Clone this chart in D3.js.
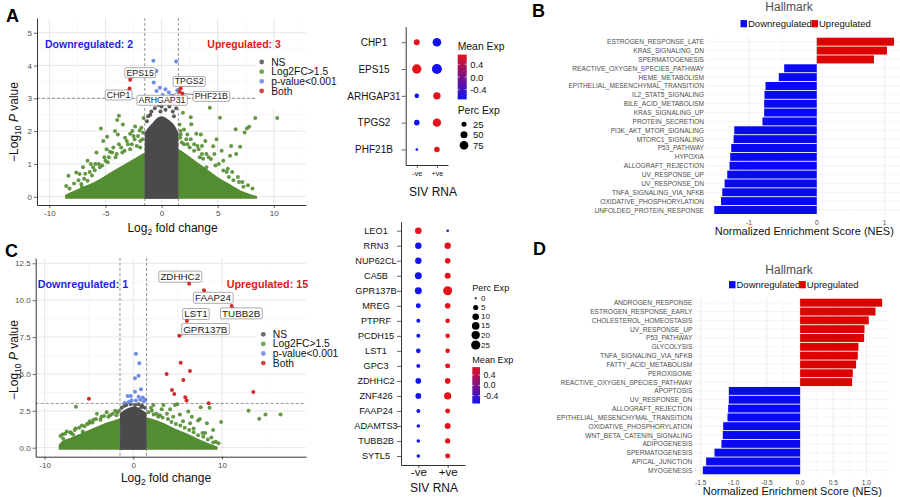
<!DOCTYPE html>
<html lang="en">
<head>
<meta charset="UTF-8">
<title>SIV RNA volcano, dot and Hallmark panels</title>
<script src="https://d3js.org/d3.v7.min.js"></script>
<style>
  body { margin: 0; background: #fff; }
  svg { font-family: "Liberation Sans", Arial, Helvetica, sans-serif; }
</style>
</head>
<body>
<div id="fig"></div>
<script>
// ---------- panel A : volcano ----------
// dense clouds given as [log2FC, top of the solid mass]
const volcAGreenEdge = [[-8.6,0.05],[-8,0.15],[-7,0.3],[-6,0.45],[-5,0.65],[-4,0.85],[-3,1.05],[-2,1.25],[-1.5,1.35],[0,1.5],[1.5,1.45],[2,1.35],[3,1.1],[4,0.85],[5,0.6],[6,0.4],[7,0.2],[8,0.07],[8.5,0.02]];
const volcAGrayEdge = [[-1.5,1.95],[-1.2,2.1],[-0.8,2.25],[-0.4,2.4],[0,2.45],[0.4,2.4],[0.8,2.3],[1.2,2.15],[1.5,1.95]];
const volcAGreen = [[-8.5,0.33],[-8.3,0.64],[-8.1,0.07],[-7.6,0.74],[-7.3,0.69],[-7.15,0.39],[-7.1,0.3],[-6.6,0.49],[-6.6,1.1],[-6.1,0.9],[-5.95,0.81],[-5.8,1.35],[-5.4,2.08],[-5.2,1.7],[-4.85,1.83],[-4.6,1.37],[-4.3,1.5],[-4.15,2.0],[-3.95,2.34],[-3.8,2.47],[-3.45,2.2],[-3.25,1.8],[-2.8,1.92],[-2.65,1.6],[-2.35,2.14],[-1.95,2.02],[-1.9,1.5],[-1.8,2.1],[-1.6,2.4],
  [-6.9,0.55],[-6.2,0.65],[-5.6,1.0],[-5.0,1.1],[-4.7,1.2],[-4.0,1.3],[-3.6,1.5],[-3.0,1.6],[-2.4,1.75],[-2.1,1.85],[-1.7,1.75],[-3.3,1.4],[-5.3,0.95],
  [-8.2,0.25],[-7.8,0.4],[-7.4,0.5],[-6.8,0.7],[-6.4,0.75],[-5.9,1.0],[-5.5,0.9],[-5.1,1.2],[-4.8,1.05],[-4.4,1.35],[-4.1,1.2],[-3.8,1.6],[-3.5,1.35],[-3.1,1.7],[-2.8,1.45],[-2.5,1.85],[-2.2,1.55],[-1.9,1.7],[-1.65,1.95],[-2.6,2.0],[-3.9,1.9],[-4.9,1.45],[-6.3,1.0],[-7.0,0.9],
  [1.6,2.2],[1.7,2.0],[1.65,1.8],[1.8,1.65],[1.9,2.56],[2.2,1.75],[2.5,1.5],[2.6,2.42],[2.65,2.21],[3.1,1.92],[3.4,1.2],[3.7,1.16],[4.0,0.9],[4.3,2.71],[4.6,1.54],[5.2,2.41],[5.2,0.24],[5.35,1.4],[5.8,0.75],[6.1,1.25],[6.4,0.5],[6.6,2.06],[6.65,1.3],[7.0,1.52],[7.4,1.96],[7.6,2.08],[7.8,2.13],[8.35,2.4],[10.3,2.4],
  [2.0,1.6],[2.9,1.4],[3.2,1.55],[3.6,1.3],[4.2,1.2],[4.8,0.95],[5.5,0.8],[6.0,0.6],[6.9,0.45],[7.3,0.3],[2.3,1.9],[3.9,1.7],
  [1.7,1.9],[2.0,2.05],[2.3,1.6],[2.6,1.75],[2.9,1.6],[3.3,1.45],[3.6,1.55],[4.0,1.3],[4.4,1.15],[4.7,1.3],[5.1,1.0],[5.5,1.1],[5.9,0.85],[6.3,0.75],[6.8,0.6],[7.2,0.45],[7.7,0.35],[8.1,0.25],[4.9,1.75],[3.5,1.9],[6.2,1.55]];
const volcAGray = [[-1.3,2.3],[-1.0,2.5],[-0.6,2.7],[-0.3,2.8],[0.0,2.75],[0.2,2.9],[0.5,2.85],[0.7,2.75],[1.0,2.6],[1.3,2.7],[-0.9,2.6],[0.35,2.65],[-0.1,2.6],[1.1,2.45],[-1.2,2.45]];
const volcABlue = [[-0.73,4.15],[1.3,4.12],[-0.45,3.83],[-0.7,3.48],[-0.15,3.32],[-0.45,3.22],[0.35,3.28],[0.65,3.18],[1.4,3.25],[0.1,3.1],[0.9,3.08]];
const volcARed = [["CHP1",-2.85,3.3],["EPS15",-2.8,3.57],["TPGS2",1.7,3.3],["ARHGAP31",1.6,3.2],["PHF21B",1.85,3.15]];

// ---------- panel C : volcano ----------
const volcCGreenEdge = [[-8.4,0.2],[-8,0.45],[-7,0.7],[-6,0.95],[-5,1.2],[-4,1.45],[-3,1.7],[-2,1.9],[-1.5,2.0],[0,2.2],[1.5,2.05],[2.5,1.9],[3.5,1.65],[4.5,1.35],[5.5,1.1],[6.5,0.85],[7.5,0.55],[8.5,0.3],[9.5,0.08]];
const volcCGrayEdge = [[-1.5,2.35],[-1,2.55],[-0.5,2.7],[0,2.8],[0.5,2.75],[1,2.55],[1.5,2.35]];
const volcCGreen = [[-8.2,0.8],[-7.7,0.95],[-7.1,1.05],[-6.46,2.78],[-5.7,1.1],[-5.8,1.5],[-4.9,1.8],[-4.1,2.3],[-3.0,2.4],[-2.05,2.5],[-6.5,1.3],[-5.2,1.6],[-4.5,1.9],[-3.6,2.1],[-2.6,2.2],[-1.8,2.4],[-7.9,0.6],[-6.8,0.9],
  [-8.0,0.9],[-7.5,1.1],[-7.0,1.0],[-6.6,1.2],[-6.1,1.35],[-5.5,1.45],[-5.0,1.65],[-4.6,1.7],[-4.2,1.95],[-3.7,1.9],[-3.3,2.15],[-2.8,2.1],[-2.3,2.3],[-1.9,2.2],[-1.6,2.5],
  [2.1,2.5],[2.27,2.9],[2.6,2.3],[3.4,2.9],[4.15,2.6],[4.5,2.1],[4.7,2.9],[4.97,2.95],[5.25,2.25],[6.2,2.45],[6.4,1.65],[6.6,2.1],[7.3,1.85],[7.5,1.95],[7.6,2.75],[8.1,1.0],[8.3,1.65],[8.6,2.7],[9.0,1.2],[9.9,1.75],[13.0,2.5],[14.2,1.97],[14.9,2.25],[16.6,2.25],[3.0,2.2],[3.8,2.3],[5.6,1.8],[6.8,1.3],[7.8,1.0],[8.8,0.7],[9.3,0.4],[2.0,2.7],[3.2,2.6],
  [1.7,2.4],[2.3,2.25],[2.8,2.1],[3.3,2.05],[3.9,1.95],[4.3,1.75],[4.8,1.6],[5.3,1.5],[5.8,1.35],[6.3,1.2],[6.8,1.05],[7.3,0.85],[7.9,0.75],[8.4,0.55],[9.0,0.35],[9.6,0.3]];
const volcCGray = [[-1.3,2.7],[-1.0,2.85],[-0.8,2.9],[-0.3,2.95],[0.2,2.9],[0.6,2.95],[1.0,2.85],[1.3,2.7],[0.9,2.75]];
const volcCBlue = [[0.3,6.37],[0.68,5.72],[0.6,4.88],[0.19,4.7],[0.87,3.96],[0.19,3.8],[-0.63,3.5],[-0.28,3.5],[0.6,3.46],[1.07,3.4],[-0.94,3.05],[-0.5,3.1],[-0.2,3.2],[0.3,3.2],[1.2,3.15],[1.35,3.25],[0.8,3.25]];
const volcCRed = [["ZDHHC2",6.31,11.12],["FAAP24",7.97,10.67],["TUBB2B",11.09,9.6],["LST1",6.05,8.59],["GPR137B",5.19,7.59],
  [null,5.35,5.76],[null,6.39,5.2],[null,3.76,5.0],[null,5.64,4.59],[null,4.36,3.91],[null,4.62,3.64],[null,5.86,3.42],[null,6.01,3.2],[null,8.5,3.02],[null,13.53,3.78],[null,-5.0,3.32]];

// ---------- dot plots ----------
const dotAGenes = ["CHP1","EPS15","ARHGAP31","TPGS2","PHF21B"];
const dotAPctNeg = [36, 88, 21, 31, 7];
const dotAPctPos = [74, 100, 55, 70, 31];
const dotAAvgNeg = [0.707, 0.707, -0.707, -0.707, -0.707];
const dotAAvgPos = [-0.707, -0.707, 0.707, 0.707, 0.707];

const dotCGenes = ["LEO1","RRN3","NUP62CL","CA5B","GPR137B","MREG","PTPRF","PCDH15","LST1","GPC3","ZDHHC2","ZNF426","FAAP24","ADAMTS3","TUBB2B","SYTL5"];
const dotCPctNeg = [10.2, 9.3, 9.3, 12, 12, 4.3, 1.9, 1.9, 3.3, 1.9, 6.3, 7, 1.9, 1.2, 1.2, 1.2];
const dotCPctPos = [0.2, 9.3, 6.3, 7.7, 23.6, 6.3, 3.3, 3.3, 3.3, 4.3, 6.3, 13, 4.3, 7.7, 5, 4.3];
const dotCAvgNeg = [0.707, -0.707, -0.707, -0.707, -0.707, -0.707, -0.707, -0.707, -0.707, -0.707, -0.707, -0.707, -0.707, -0.707, -0.707, -0.707];
const dotCAvgPos = [-0.707, 0.707, 0.707, 0.707, 0.707, 0.707, 0.707, 0.707, 0.707, 0.707, 0.707, 0.707, 0.707, 0.707, 0.707, 0.707];

// ---------- Hallmark NES ----------
const nesBTerms = ["ESTROGEN_RESPONSE_LATE","KRAS_SIGNALING_DN","SPERMATOGENESIS","REACTIVE_OXYGEN_SPECIES_PATHWAY","HEME_METABOLISM","EPITHELIAL_MESENCHYMAL_TRANSITION","IL2_STAT5_SIGNALING","BILE_ACID_METABOLISM","KRAS_SIGNALING_UP","PROTEIN_SECRETION","PI3K_AKT_MTOR_SIGNALING","MTORC1_SIGNALING","P53_PATHWAY","HYPOXIA","ALLOGRAFT_REJECTION","UV_RESPONSE_UP","UV_RESPONSE_DN","TNFA_SIGNALING_VIA_NFKB","OXIDATIVE_PHOSPHORYLATION","UNFOLDED_PROTEIN_RESPONSE"];
const nesBValues = [1.137, 1.034, 0.843, -0.48, -0.559, -0.755, -0.77, -0.775, -0.775, -0.8, -1.216, -1.225, -1.26, -1.275, -1.285, -1.319, -1.358, -1.392, -1.41, -1.51];
const nesDTerms = ["ANDROGEN_RESPONSE","ESTROGEN_RESPONSE_EARLY","CHOLESTEROL_HOMEOSTASIS","UV_RESPONSE_UP","P53_PATHWAY","GLYCOLYSIS","TNFA_SIGNALING_VIA_NFKB","FATTY_ACID_METABOLISM","PEROXISOME","REACTIVE_OXYGEN_SPECIES_PATHWAY","APOPTOSIS","UV_RESPONSE_DN","ALLOGRAFT_REJECTION","EPITHELIAL_MESENCHYMAL_TRANSITION","OXIDATIVE_PHOSPHORYLATION","WNT_BETA_CATENIN_SIGNALING","ADIPOGENESIS","SPERMATOGENESIS","APICAL_JUNCTION","MYOGENESIS"];
const nesDValues = [1.236, 1.136, 1.035, 0.97, 0.965, 0.879, 0.869, 0.844, 0.794, 0.784, -1.075, -1.075, -1.085, -1.095, -1.16, -1.166, -1.186, -1.291, -1.417, -1.467];

const legendLabels = ["NS", "Log2FC>1.5", "p-value<0.001", "Both"];

// ---------------------------------------------------------------
const FONT = '"Liberation Sans", Arial, Helvetica, sans-serif';
const COL = { ns: "#4a4a4a", fc: "#538d31", p: "#6d8ce4", both: "#d22b2b" };
const LEGCOL = ["#6b6b6b", "#6fab4c", "#8098ec", "#d94444"];

const svg = d3.select("#fig").append("svg")
    .attr("width", 900).attr("height", 497)
    .style("font-family", FONT);
svg.append("rect").attr("width", 900).attr("height", 497).attr("fill", "#fff");

const meanColor = d3.scaleLinear().domain([-0.707, 0.707])
    .range(["#1212f2", "#e5121c"]).interpolate(d3.interpolateRgb).clamp(true);

const defs = svg.append("defs");
const grad = defs.append("linearGradient").attr("id", "meanGrad")
    .attr("x1", 0).attr("y1", 1).attr("x2", 0).attr("y2", 0);
d3.range(0, 1.01, 0.1).forEach(t => {
    grad.append("stop").attr("offset", t).attr("stop-color", meanColor(-0.707 + t * 1.414));
});

function styleAxis(a, fs, col) {
    a.attr("font-family", FONT).attr("font-size", null);
    a.select(".domain").attr("stroke", "#000").attr("stroke-width", 0.8);
    a.selectAll(".tick line").attr("stroke", "#222").attr("stroke-width", 0.7);
    a.selectAll(".tick text").style("font-size", fs + "px").attr("fill", col);
}

function drawLabel(g, px, py, name, off, fs) {
    const lg = g.append("g");
    lg.append("line").attr("x1", px).attr("y1", py)
        .attr("x2", px + off[0]).attr("y2", py + off[1])
        .attr("stroke", "#333").attr("stroke-width", 0.6);
    const t = lg.append("text").attr("x", px + off[0]).attr("y", py + off[1])
        .attr("text-anchor", "middle").attr("dominant-baseline", "central")
        .style("font-size", fs + "px").attr("fill", "#1a1a1a").text(name);
    const bb = t.node().getBBox();
    lg.insert("rect", "text").attr("x", bb.x - 1.6).attr("y", bb.y)
        .attr("width", bb.width + 3.2).attr("height", bb.height)
        .attr("rx", 1.5).attr("fill", "#fff").attr("stroke", "#8a8a8a").attr("stroke-width", 0.7);
}

function volcano(c) {
    const g = svg.append("g");
    const x = d3.scaleLinear().domain(c.xDom).range([c.left, c.right]);
    const y = d3.scaleLinear().domain(c.yDom).range([c.bottom, c.top]);

    const grid = g.append("g");
    const vl = (vals, col, w) => grid.selectAll(null).data(vals).join("line")
        .attr("x1", d => x(d)).attr("x2", d => x(d)).attr("y1", c.top).attr("y2", c.bottom)
        .attr("stroke", col).attr("stroke-width", w);
    const hl = (vals, col, w) => grid.selectAll(null).data(vals).join("line")
        .attr("y1", d => y(d)).attr("y2", d => y(d)).attr("x1", c.left).attr("x2", c.right)
        .attr("stroke", col).attr("stroke-width", w);
    vl(c.xMinor, "#f2f2f2", 0.6); hl(c.yMinor, "#f2f2f2", 0.6);
    vl(c.xTicks, "#e4e4e4", 0.9); hl(c.yTicks, "#e4e4e4", 0.9);

    const area = d3.area().curve(d3.curveMonotoneX)
        .x(d => x(d[0])).y0(y(0) + 2).y1(d => y(d[1]));
    const dots = (data, col) => g.append("g").selectAll("circle").data(data).join("circle")
        .attr("cx", d => x(d[0])).attr("cy", d => y(d[1])).attr("r", 2).attr("fill", col);

    g.append("path").datum(c.greenEdge).attr("d", area).attr("fill", COL.fc);
    dots(c.green, COL.fc).attr("fill-opacity", 0.9);
    g.append("path").datum(c.grayEdge).attr("d", area).attr("fill", COL.ns);
    dots(c.gray, COL.ns).attr("fill-opacity", 0.9);
    dots(c.blue, COL.p);

    // cut-off lines
    const dash = g.append("g").attr("stroke", "#6a6a6a").attr("stroke-width", 0.7).attr("stroke-dasharray", "3,2");
    [-1.5, 1.5].forEach(v => dash.append("line").attr("x1", x(v)).attr("x2", x(v)).attr("y1", c.top).attr("y2", c.bottom));
    dash.append("line").attr("x1", c.left).attr("x2", c.right).attr("y1", y(3)).attr("y2", y(3));

    // legend sits inside the panel on a white box
    const lg = g.append("g");
    lg.append("rect").attr("x", c.leg.box[0]).attr("y", c.leg.box[1])
        .attr("width", c.leg.box[2]).attr("height", c.leg.box[3]).attr("fill", "#fff");
    legendLabels.forEach((t, i) => {
        const yy = c.leg.y0 + i * c.leg.step;
        lg.append("circle").attr("cx", c.leg.x).attr("cy", yy).attr("r", 2.4).attr("fill", LEGCOL[i]);
        lg.append("text").attr("x", c.leg.x + 9.5).attr("y", yy).attr("dominant-baseline", "central")
            .style("font-size", "10.3px").attr("fill", "#111").text(t);
    });

    // counts
    g.append("text").attr("x", c.down[0]).attr("y", c.down[1]).attr("fill", "#1f1fe6")
        .style("font-size", c.annFs + "px").style("font-weight", "bold").text(c.downText);
    g.append("text").attr("x", c.up[0]).attr("y", c.up[1]).attr("fill", "#e01818")
        .style("font-size", c.annFs + "px").style("font-weight", "bold").text(c.upText);

    // boxed gene labels, then red points on top
    const labG = g.append("g");
    c.red.filter(d => d[0]).forEach(d => drawLabel(labG, x(d[1]), y(d[2]), d[0], c.labelOff[d[0]], c.labFs));
    g.append("g").selectAll("circle").data(c.red).join("circle")
        .attr("cx", d => x(d[1])).attr("cy", d => y(d[2])).attr("r", 2).attr("fill", COL.both);

    const ax = g.append("g").attr("transform", `translate(0,${c.bottom})`)
        .call(d3.axisBottom(x).tickValues(c.xTicks).tickSize(3).tickSizeOuter(0).tickPadding(2.5).tickFormat(c.xFmt));
    styleAxis(ax, 8, "#4d4d4d");
    const ay = g.append("g").attr("transform", `translate(${c.left},0)`)
        .call(d3.axisLeft(y).tickValues(c.yTicks).tickSize(3).tickSizeOuter(0).tickPadding(2).tickFormat(c.yFmt));
    styleAxis(ay, 8, "#4d4d4d");

    const xt = g.append("text").attr("x", c.xTitle[0]).attr("y", c.xTitle[1]).attr("text-anchor", "middle")
        .style("font-size", "12px").attr("fill", "#111");
    xt.append("tspan").text("Log");
    xt.append("tspan").attr("dy", 3).style("font-size", "8.5px").text("2");
    xt.append("tspan").attr("dy", -3).text(" fold change");

    const yt = g.append("text").attr("transform", `translate(${c.yTitle[0]},${c.yTitle[1]}) rotate(-90)`)
        .attr("text-anchor", "middle").style("font-size", "12px").attr("fill", "#111");
    yt.append("tspan").text("\u2212Log");
    yt.append("tspan").attr("dy", 3).style("font-size", "8.5px").text("10");
    yt.append("tspan").attr("dy", -3).text(" ");
    yt.append("tspan").style("font-style", "italic").text("P");
    yt.append("tspan").text(" value");
}

function dotPlot(c) {
    const g = svg.append("g");
    const x = d3.scalePoint().domain(["-ve", "+ve"]).range([c.axX, c.axRight]).padding(c.xPad);
    const y = d3.scalePoint().domain(c.genes).range([c.axTop, c.axY]).padding(c.yPad);
    const cells = c.genes.flatMap((gene, i) => [
        { gene, grp: "-ve", pct: c.pctNeg[i], avg: c.avgNeg[i] },
        { gene, grp: "+ve", pct: c.pctPos[i], avg: c.avgPos[i] }]);
    g.append("g").selectAll("circle").data(cells).join("circle")
        .attr("cx", d => x(d.grp)).attr("cy", d => y(d.gene))
        .attr("r", d => c.size(d.pct)).attr("fill", d => meanColor(d.avg));

    const ay = g.append("g").attr("transform", `translate(${c.axX},0)`)
        .call(d3.axisLeft(y).tickSize(4).tickSizeOuter(0));
    styleAxis(ay, c.geneFs, "#111");
    ay.selectAll(".tick text").attr("text-anchor", "middle").attr("x", c.geneX - c.axX);
    const ax = g.append("g").attr("transform", `translate(0,${c.axY})`)
        .call(d3.axisBottom(x).tickSize(3).tickSizeOuter(0).tickPadding(c.grpPad));
    styleAxis(ax, c.grpFs, "#111");
    g.append("text").attr("x", c.title[0]).attr("y", c.title[1]).attr("text-anchor", "middle")
        .attr("dominant-baseline", "central").style("font-size", "12px").attr("fill", "#111").text("SIV RNA");

    // Mean Exp colourbar
    const m = c.mean;
    g.append("text").attr("x", m.x).attr("y", m.titleY).attr("dominant-baseline", "central")
        .style("font-size", m.fs + "px").attr("fill", "#111").text("Mean Exp");
    const cy = d3.scaleLinear().domain([-0.707, 0.707]).range([m.y1, m.y0]);
    g.append("rect").attr("x", m.x).attr("y", m.y0).attr("width", m.w).attr("height", m.y1 - m.y0)
        .attr("fill", "url(#meanGrad)");
    [0.4, 0, -0.4].forEach(v => {
        g.append("line").attr("x1", m.x).attr("x2", m.x + 2).attr("y1", cy(v)).attr("y2", cy(v)).attr("stroke", "#fff").attr("stroke-width", 0.6);
        g.append("line").attr("x1", m.x + m.w - 2).attr("x2", m.x + m.w).attr("y1", cy(v)).attr("y2", cy(v)).attr("stroke", "#fff").attr("stroke-width", 0.6);
        g.append("text").attr("x", m.x + m.w + 3.5).attr("y", cy(v)).attr("dominant-baseline", "central")
            .style("font-size", m.lfs + "px").attr("fill", "#111").text(v === 0 ? "0.0" : (v < 0 ? "-" : "") + Math.abs(v).toFixed(1));
    });

    // Perc Exp size key (key rows grow with the dot)
    const p = c.perc;
    g.append("text").attr("x", p.x).attr("y", p.titleY).attr("dominant-baseline", "central")
        .style("font-size", p.fs + "px").attr("fill", "#111").text("Perc Exp");
    p.breaks.forEach((b, i) => {
        const yy = p.rows[i];
        g.append("circle").attr("cx", p.dotX).attr("cy", yy).attr("r", c.size(b)).attr("fill", "#000");
        g.append("text").attr("x", p.textX).attr("y", yy).attr("dominant-baseline", "central")
            .style("font-size", p.lfs + "px").attr("fill", "#111").text(b);
    });
}

function nesBars(c) {
    const g = svg.append("g");
    const x = d3.scaleLinear().domain(c.xDom).range(c.xRange);
    const y = d3.scalePoint().domain(c.terms).range(c.yRange);
    const step = y.step();
    const top = c.yRange[0] - 0.6 * step, bot = c.yRange[1] + 0.6 * step;

    g.selectAll(null).data(c.minor).join("line")
        .attr("x1", d => x(d)).attr("x2", d => x(d)).attr("y1", top).attr("y2", bot)
        .attr("stroke", "#f3f3f3").attr("stroke-width", 0.5);
    g.selectAll(null).data(c.ticks).join("line")
        .attr("x1", d => x(d)).attr("x2", d => x(d)).attr("y1", top).attr("y2", bot)
        .attr("stroke", "#e9e9e9").attr("stroke-width", 0.8);
    g.selectAll(null).data(c.terms).join("line")
        .attr("x1", c.xRange[0]).attr("x2", c.xRange[1]).attr("y1", d => y(d)).attr("y2", d => y(d))
        .attr("stroke", "#ececec").attr("stroke-width", 0.6);

    const rows = c.terms.map((t, i) => ({ t, v: c.values[i] }));
    g.selectAll("rect.bar").data(rows).join("rect").attr("class", "bar")
        .attr("x", d => x(Math.min(0, d.v))).attr("width", d => Math.abs(x(d.v) - x(0)))
        .attr("y", d => y(d.t) - step * 0.45).attr("height", step * 0.9)
        .attr("fill", d => d.v < 0 ? "#0a0af0" : "#dc0000");

    g.selectAll("text.term").data(c.terms).join("text").attr("class", "term")
        .attr("x", c.labelX).attr("y", d => y(d)).attr("text-anchor", "end").attr("dominant-baseline", "central")
        .style("font-size", "6.6px").attr("fill", "#4d4d4d").text(d => d);
    g.selectAll("text.tick").data(c.ticks).join("text").attr("class", "tick")
        .attr("x", d => x(d)).attr("y", c.tickY).attr("text-anchor", "middle").attr("dominant-baseline", "central")
        .style("font-size", "6.6px").attr("fill", "#4d4d4d").text(c.fmt);
    g.append("text").attr("x", c.xTitle[0]).attr("y", c.xTitle[1]).attr("text-anchor", "middle")
        .attr("dominant-baseline", "central").style("font-size", "11px").attr("fill", "#111")
        .text("Normalized Enrichment Score (NES)");
    g.append("text").attr("x", c.hall[0]).attr("y", c.hall[1]).attr("text-anchor", "middle")
        .style("font-size", "12px").attr("fill", "#4d4d4d").text("Hallmark");

    const L = c.leg;
    [["Downregulated", "#0a0af0", L.x0], ["Upregulated", "#dc0000", L.x1]].forEach(([t, col, lx]) => {
        g.append("rect").attr("x", lx).attr("y", L.y - 3.6).attr("width", 6.5).attr("height", 7.2).attr("fill", col);
        g.append("text").attr("x", lx + 7.5).attr("y", L.y).attr("dominant-baseline", "central")
            .style("font-size", "9.5px").attr("fill", "#111").text(t);
    });
}

// ---------------------------------------------------------------
volcano({
    left: 37, right: 306, top: 18, bottom: 205,
    xDom: [-11.1, 12.87], yDom: [-0.253, 5.45],
    xTicks: [-10, -5, 0, 5, 10], xMinor: [-7.5, -2.5, 2.5, 7.5, 12.5],
    yTicks: [0, 1, 2, 3, 4, 5], yMinor: [0.5, 1.5, 2.5, 3.5, 4.5],
    xFmt: d => String(d), yFmt: d => String(d),
    greenEdge: volcAGreenEdge, grayEdge: volcAGrayEdge,
    green: volcAGreen, gray: volcAGray, blue: volcABlue, red: volcARed,
    labelOff: { EPS15: [10, -7], CHP1: [-11, 6.5], ARHGAP31: [-17.5, 8.5], TPGS2: [8.5, -7], PHF21B: [29, 3] },
    labFs: 8.8,
    leg: { box: [255, 50, 92, 58], x: 261.7, y0: 62, step: 9.67 },
    annFs: 10.5, down: [45, 48], downText: "Downregulated: 2", up: [207.3, 48], upText: "Upregulated: 3",
    xTitle: [172.5, 232], yTitle: [18, 122]
});

volcano({
    left: 35.7, right: 306, top: 258, bottom: 456.7,
    xDom: [-11.0, 19.47], yDom: [-0.61, 12.86],
    xTicks: [-10, 0, 10], xMinor: [-5, 5, 15],
    yTicks: [0, 2.5, 5, 7.5, 10, 12.5], yMinor: [1.25, 3.75, 6.25, 8.75, 11.25],
    xFmt: d => String(d), yFmt: d => d.toFixed(1),
    greenEdge: volcCGreenEdge, grayEdge: volcCGrayEdge,
    green: volcCGreen, gray: volcCGray, blue: volcCBlue, red: volcCRed,
    labelOff: { ZDHHC2: [-9, -7], FAAP24: [9, 7.5], TUBB2B: [9.5, 7.3], LST1: [9, -7], GPR137B: [26, -6.7] },
    labFs: 9.8,
    leg: { box: [255, 322, 92, 46], x: 263.3, y0: 334.3, step: 9.6 },
    annFs: 10.8, down: [37.7, 288], downText: "Downregulated: 1", up: [226.7, 288], upText: "Upregulated: 15",
    xTitle: [166, 482], yTitle: [18, 360]
});

dotPlot({
    genes: dotAGenes, pctNeg: dotAPctNeg, pctPos: dotAPctPos, avgNeg: dotAAvgNeg, avgPos: dotAAvgPos,
    size: d3.scaleSqrt().domain([0, 100]).range([0, 5]),
    axX: 405.7, axRight: 448, axTop: 26.7, axY: 165, xPad: 0.55, yPad: 0.58,
    geneX: 374, geneFs: 10, grpFs: 7.2, grpPad: 2.5, title: [433, 191.7],
    mean: { x: 457.7, titleY: 46.7, y0: 54.6, y1: 99.4, w: 9, fs: 10.4, lfs: 9.5 },
    perc: { x: 457.7, titleY: 110, rows: [124.3, 134.8, 145.3], dotX: 464, textX: 473, fs: 10.4, lfs: 9.5, breaks: [25, 50, 75] }
});

dotPlot({
    genes: dotCGenes, pctNeg: dotCPctNeg, pctPos: dotCPctPos, avgNeg: dotCAvgNeg, avgPos: dotCAvgPos,
    size: d3.scaleSqrt().domain([0, 25]).range([1, 4.6]),
    axX: 401, axRight: 465, axTop: 221.7, axY: 465, xPad: 0.59, yPad: 0.6,
    geneX: 376, geneFs: 9.2, grpFs: 11.5, grpPad: 0, title: [434, 488.3],
    mean: { x: 472.3, titleY: 360, y0: 367.1, y1: 403.5, w: 7.7, fs: 9.1, lfs: 8.6 },
    perc: { x: 472.3, titleY: 287.7, rows: [298.3, 307.5, 316.7, 325.9, 335.1, 345], dotX: 475.7, textX: 481, fs: 9.1, lfs: 8, breaks: [0, 5, 10, 15, 20, 25] }
});

nesBars({
    terms: nesBTerms, values: nesBValues,
    xDom: [-1.642, 1.27], xRange: [705.3, 903], yRange: [41.7, 210],
    ticks: [-1, 0, 1], minor: [-1.5, -0.5, 0.5], fmt: d => String(d),
    labelX: 704, tickY: 222.3, xTitle: [804.3, 230.7], hall: [789, 10.5],
    leg: { x0: 740.5, x1: 811.5, y: 23.7 }
});

nesBars({
    terms: nesDTerms, values: nesDValues,
    xDom: [-1.6, 1.37], xRange: [694, 891], yRange: [302.7, 470.3],
    ticks: [-1.5, -1, -0.5, 0, 0.5, 1], minor: [-1.25, -0.75, -0.25, 0.25, 0.75, 1.25],
    fmt: d => (d < 0 ? "-" : "") + Math.abs(d).toFixed(1),
    labelX: 692.3, tickY: 482.3, xTitle: [792.3, 490.7], hall: [789, 273.5],
    leg: { x0: 729, x1: 799.3, y: 284.7 }
});

// panel letters
[["A", 6, 21.7], ["B", 532, 17], ["C", 5, 256.5], ["D", 533, 255]].forEach(([t, lx, ly]) => {
    svg.append("text").attr("x", lx).attr("y", ly).style("font-size", "18px")
        .style("font-weight", "bold").attr("fill", "#000").text(t);
});
</script>
</body>
</html>
